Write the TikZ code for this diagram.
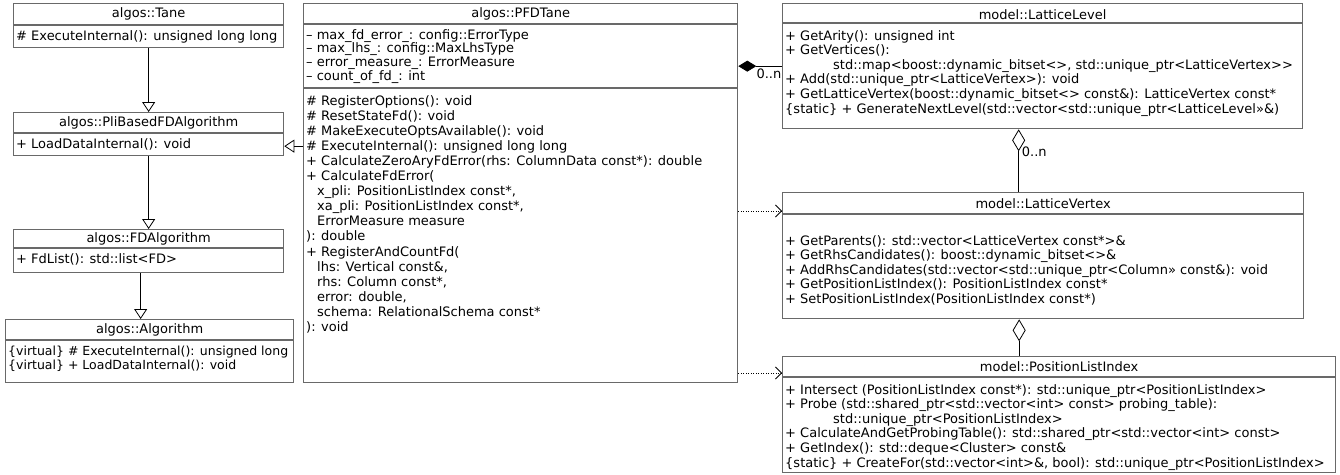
\documentclass[tikz,border=0pt]{standalone}
\usepackage{fontspec}
\setmainfont{DejaVu Sans}
\usetikzlibrary{arrows.meta,calc}

\definecolor{boxgray}{RGB}{105,105,105}
\newcommand{\umlfont}{\fontsize{13}{14.6}\selectfont}
\newcommand{\attrfont}{\fontsize{13}{13.8}\selectfont}
\newcommand{\narrowfont}{\fontsize{12.5}{14}\selectfont}
\newcommand{\opsfont}{\fontsize{13}{15.1}\selectfont}
\newcommand{\ind}{\hspace*{11pt}}
\newcommand{\wrapind}{\hspace*{48pt}}

\tikzset{
  classbox/.style={draw=boxgray, line width=1.3pt, fill=white, anchor=north west, inner sep=0pt},
  classname/.style={font=\umlfont, inner sep=0pt},
  members/.style={font=\umlfont, align=left, anchor=north west, inner sep=0pt},
  divider/.style={draw=boxgray, line width=1.3pt},
  inherit/.style={-{Triangle[open, length=10pt, width=13pt]}, line width=0.8pt},
  depend/.style={dash pattern=on 1pt off 1.5pt, -{Straight Barb[length=6pt, width=12pt]}, line width=0.8pt},
  compose/.style={{Diamond[length=18pt, width=11pt]}-, line width=0.8pt},
  aggregate/.style={{Diamond[open, length=22pt, width=13pt]}-, line width=0.8pt},
  mult/.style={font=\umlfont, inner sep=0pt},
}

\begin{document}
\begin{tikzpicture}[x=1pt, y=-1pt]
    \useasboundingbox (0,0) rectangle (1340,474);

    % left column
    \node[classbox, minimum width=270pt, minimum height=44pt] (tane) at (13,3) {};
    \node[classname] (tane-name) at ([yshift=-11pt]tane.north) {algos::Tane};
    \draw[divider] ([yshift=-22pt]tane.north west) -- ([yshift=-22pt]tane.north east);
    \node[members] (tane-ops) at ([xshift=3pt, yshift=-27pt]tane.north west) {\# ExecuteInternal(): unsigned long long};

    \node[classbox, minimum width=270pt, minimum height=43pt] (plibased) at (13,112) {};
    \node[classname] (plibased-name) at ([yshift=-11pt]plibased.north) {algos::PliBasedFDAlgorithm};
    \draw[divider] ([yshift=-21pt]plibased.north west) -- ([yshift=-21pt]plibased.north east);
    \node[members] (plibased-ops) at ([xshift=3pt, yshift=-26pt]plibased.north west) {+ LoadDataInternal(): void};

    \node[classbox, minimum width=270pt, minimum height=43pt] (fdalgorithm) at (13,229) {};
    \node[classname] (fdalgorithm-name) at ([yshift=-10pt]fdalgorithm.north) {algos::FDAlgorithm};
    \draw[divider] ([yshift=-19pt]fdalgorithm.north west) -- ([yshift=-19pt]fdalgorithm.north east);
    \node[members] (fdalgorithm-ops) at ([xshift=3pt, yshift=-24pt]fdalgorithm.north west) {+ FdList(): std::list<FD>};

    \node[classbox, minimum width=288pt, minimum height=63pt] (algorithm) at (5,319) {};
    \node[classname] (algorithm-name) at ([yshift=-11pt]algorithm.north) {algos::Algorithm};
    \draw[divider] ([yshift=-21pt]algorithm.north west) -- ([yshift=-21pt]algorithm.north east);
    \node[members, font=\narrowfont] (algorithm-ops) at ([xshift=3pt, yshift=-27pt]algorithm.north west)
      {\{virtual\} \# ExecuteInternal(): unsigned long\\
       \{virtual\} + LoadDataInternal(): void};

    % PFDTane
    \node[classbox, minimum width=434pt, minimum height=379pt] (pfdtane) at (303,3) {};
    \node[classname] (pfdtane-name) at ([yshift=-11pt]pfdtane.north) {algos::PFDTane};
    \draw[divider] ([yshift=-21pt]pfdtane.north west) -- ([yshift=-21pt]pfdtane.north east);
    \node[members, font=\attrfont] (pfdtane-attrs) at ([xshift=3pt, yshift=-26pt]pfdtane.north west)
      {– max\_fd\_error\_: config::ErrorType\\
       – max\_lhs\_: config::MaxLhsType\\
       – error\_measure\_: ErrorMeasure\\
       – count\_of\_fd\_: int};
    \draw[divider] ([yshift=-85pt]pfdtane.north west) -- ([yshift=-85pt]pfdtane.north east);
    \node[members, font=\opsfont] (pfdtane-ops) at ([xshift=3pt, yshift=-92pt]pfdtane.north west)
      {\# RegisterOptions(): void\\
       \# ResetStateFd(): void\\
       \# MakeExecuteOptsAvailable(): void\\
       \# ExecuteInternal(): unsigned long long\\
       + CalculateZeroAryFdError(rhs: ColumnData const*): double\\
       + CalculateFdError(\\
       \ind x\_pli: PositionListIndex const*,\\
       \ind xa\_pli: PositionListIndex const*,\\
       \ind ErrorMeasure measure\\
       ): double\\
       + RegisterAndCountFd(\\
       \ind lhs: Vertical const\&,\\
       \ind rhs: Column const*,\\
       \ind error: double,\\
       \ind schema: RelationalSchema const*\\
       ): void};

    % right column
    \node[classbox, minimum width=520pt, minimum height=125pt] (lattlevel) at (782,3) {};
    \node[classname] (lattlevel-name) at ([yshift=-12pt]lattlevel.north) {model::LatticeLevel};
    \draw[divider] ([yshift=-20pt]lattlevel.north west) -- ([yshift=-20pt]lattlevel.north east);
    \node[members] (lattlevel-ops) at ([xshift=3pt, yshift=-27pt]lattlevel.north west)
      {+ GetArity(): unsigned int\\
       + GetVertices():\\
       \wrapind std::map<boost::dynamic\_bitset<>, std::unique\_ptr<LatticeVertex>{}>\\
       + Add(std::unique\_ptr<LatticeVertex>): void\\
       + GetLatticeVertex(boost::dynamic\_bitset<> const\&): LatticeVertex const*\\
       \{static\} + GenerateNextLevel(std::vector<std::unique\_ptr<LatticeLevel»\&)};

    \node[classbox, minimum width=521pt, minimum height=126pt] (lattvertex) at (782,192) {};
    \node[classname] (lattvertex-name) at ([yshift=-12pt]lattvertex.north) {model::LatticeVertex};
    \draw[divider] ([yshift=-22pt]lattvertex.north west) -- ([yshift=-22pt]lattvertex.north east);
    \node[members] (lattvertex-ops) at ([xshift=3pt, yshift=-43pt]lattvertex.north west)
      {+ GetParents(): std::vector<LatticeVertex const*>\&\\
       + GetRhsCandidates(): boost::dynamic\_bitset<>\&\\
       + AddRhsCandidates(std::vector<std::unique\_ptr<Column» const\&): void\\
       + GetPositionListIndex(): PositionListIndex const*\\
       + SetPositionListIndex(PositionListIndex const*)};

    \node[classbox, minimum width=553pt, minimum height=116pt] (plindex) at (782,356) {};
    \node[classname] (plindex-name) at ([yshift=-11pt]plindex.north) {model::PositionListIndex};
    \draw[divider] ([yshift=-21pt]plindex.north west) -- ([yshift=-21pt]plindex.north east);
    \node[members] (plindex-ops) at ([xshift=3pt, yshift=-28pt]plindex.north west)
      {+ Intersect (PositionListIndex const*): std::unique\_ptr<PositionListIndex>\\
       + Probe (std::shared\_ptr<std::vector<int> const> probing\_table):\\
       \wrapind std::unique\_ptr<PositionListIndex>\\
       + CalculateAndGetProbingTable(): std::shared\_ptr<std::vector<int> const>\\
       + GetIndex(): std::deque<Cluster> const\&\\
       \{static\} + CreateFor(std::vector<int>\&, bool): std::unique\_ptr<PositionListIndex>};

    % generalizations
    \draw[inherit] (tane.south) -- (plibased.north);
    \draw[inherit] (plibased.south) -- (fdalgorithm.north);
    \draw[inherit] ([xshift=-8pt]fdalgorithm.south) -- ([xshift=-8pt]fdalgorithm.south |- algorithm.north);
    \draw[inherit] ([yshift=-12pt]plibased.east -| pfdtane.west) -- ([yshift=-12pt]plibased.east);

    % composition, aggregation, dependencies
    \draw[compose] (lattlevel.west -| pfdtane.east) -- (lattlevel.west);
    \node[mult, anchor=north west] (level-mult) at ([xshift=18pt, yshift=-2pt]lattlevel.west -| pfdtane.east) {0..n};
    \draw[aggregate] ([xshift=-24pt]lattlevel.south) -- ([xshift=-24pt]lattlevel.south |- lattvertex.north);
    \node[mult, anchor=north west] (vertex-mult) at ([xshift=-21pt, yshift=-17pt]lattlevel.south) {0..n};
    \draw[aggregate] ([xshift=-24pt]lattvertex.south) -- ([xshift=-24pt]lattvertex.south |- plindex.north);
    \draw[depend] ([yshift=-19pt]lattvertex.north west -| pfdtane.east) -- ([yshift=-19pt]lattvertex.north west);
    \draw[depend] ([yshift=-17pt]plindex.north west -| pfdtane.east) -- ([yshift=-17pt]plindex.north west);
\end{tikzpicture}
\end{document}
